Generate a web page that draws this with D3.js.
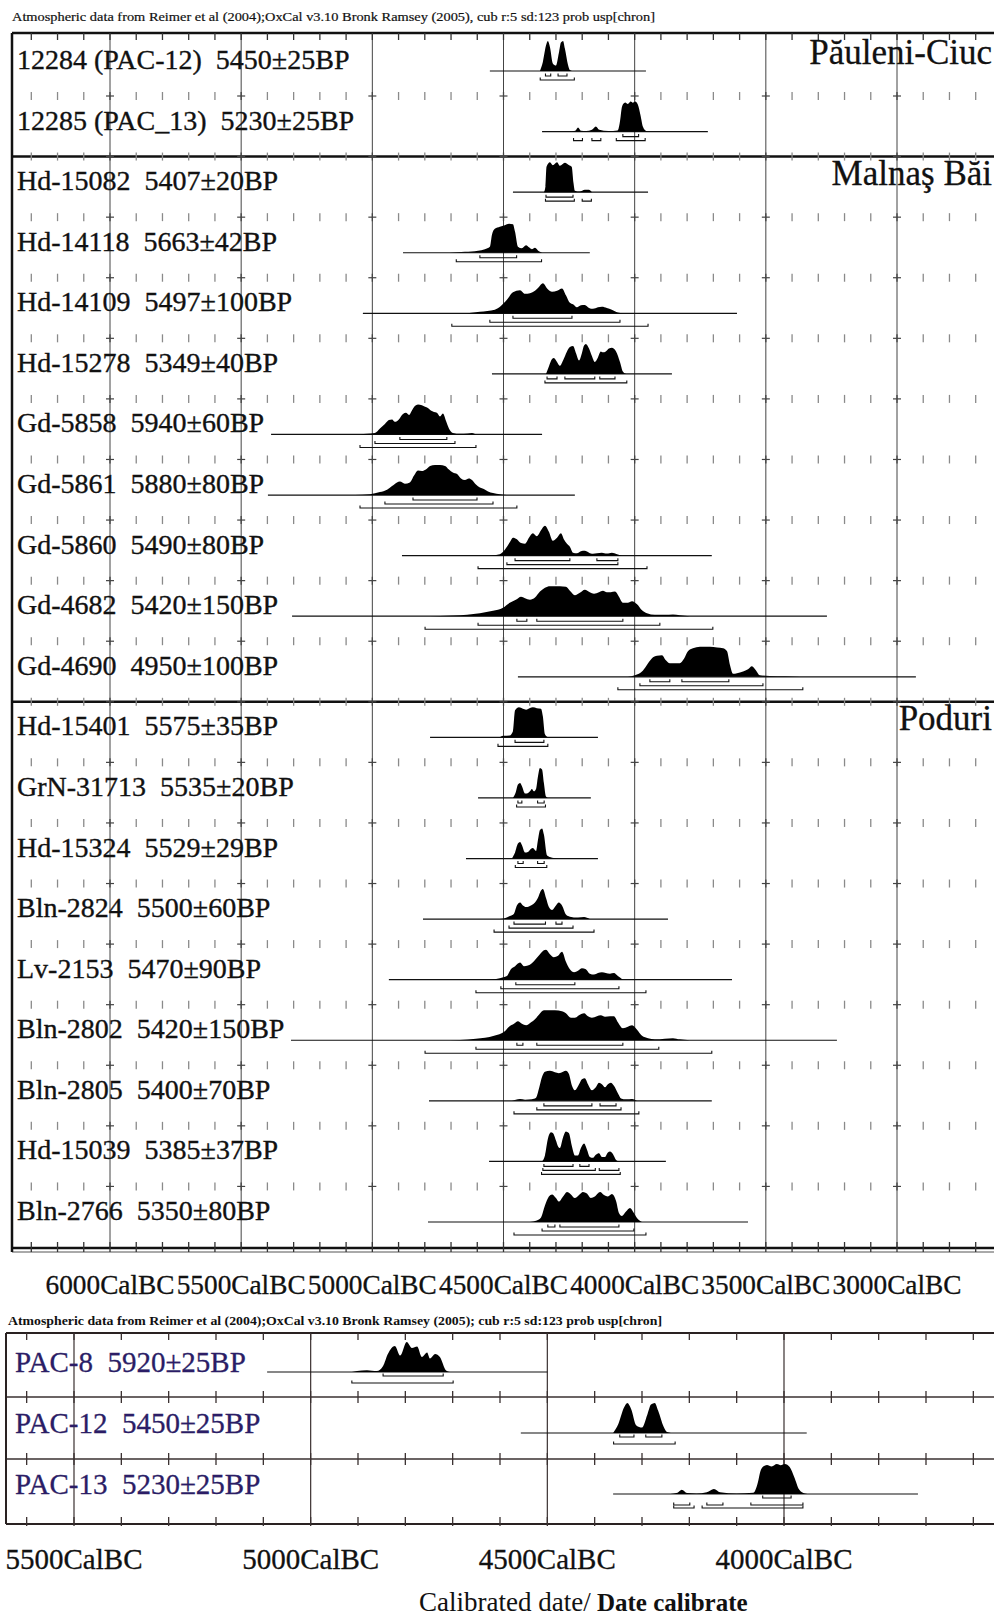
<!DOCTYPE html>
<html><head><meta charset="utf-8">
<script src="https://cdn.jsdelivr.net/npm/d3@7"></script>
<style>
body{margin:0;background:#fff}
svg{display:block}
text{font-family:"Liberation Serif","Times New Roman",serif;white-space:pre}
</style>
</head><body>
<svg id="c" width="994" height="1622"></svg>
<script>
// ---------------- DATA ----------------
const topHeader = "Atmospheric data from Reimer et al (2004);OxCal v3.10 Bronk Ramsey (2005), cub r:5 sd:123 prob usp[chron]";
const bottomHeader = "Atmospheric data from Reimer et al (2004);OxCal v3.10 Bronk Ramsey (2005); cub r:5 sd:123 prob usp[chron]";
const topAxisYears = [6000, 5500, 5000, 4500, 4000, 3500, 3000];
const bottomAxisYears = [5500, 5000, 4500, 4000];
const axisSuffix = "CalBC";

const groupNames = ["Păuleni-Ciuc", "Malnaş Băi", "Poduri"];
const groupFirstRow = [0, 2, 11];

const topLabels = [
 "12284 (PAC-12)  5450±25BP", "12285 (PAC_13)  5230±25BP",
 "Hd-15082  5407±20BP", "Hd-14118  5663±42BP", "Hd-14109  5497±100BP", "Hd-15278  5349±40BP",
 "Gd-5858  5940±60BP", "Gd-5861  5880±80BP", "Gd-5860  5490±80BP", "Gd-4682  5420±150BP", "Gd-4690  4950±100BP",
 "Hd-15401  5575±35BP", "GrN-31713  5535±20BP", "Hd-15324  5529±29BP", "Bln-2824  5500±60BP", "Lv-2153  5470±90BP",
 "Bln-2802  5420±150BP", "Bln-2805  5400±70BP", "Hd-15039  5385±37BP", "Bln-2766  5350±80BP"
];

// probability curves: [calBC year, relative probability]
const pac12 = [[4361,0],[4350,0.3],[4338,0.85],[4331,1],[4323,0.8],[4312,0.25],[4300,0.18],[4289,0.6],[4281,0.95],[4273,1],[4266,0.75],[4254,0.2],[4247,0.03],[4239,0]];
const pac13 = [[4240,0],[4225,0.04],[4216,0.14],[4205,0.03],[4185,0.02],[4163,0.06],[4148,0.17],[4135,0.06],[4100,0.02],[4065,0.04],[4055,0.4],[4050,0.75],[4044,0.92],[4036,0.97],[4026,0.92],[4015,1],[4007,0.96],[3998,1],[3988,0.9],[3978,0.55],[3968,0.15],[3956,0.02],[3945,0]];
const pac8 = [[4913,0],[4902,0.03],[4881,0.06],[4860,0.03],[4847,0.2],[4837,0.6],[4822,0.87],[4811,0.55],[4797,1],[4786,0.8],[4775,0.85],[4765,0.5],[4754,0.65],[4748,0.45],[4737,0.6],[4727,0.5],[4714,0.05],[4706,0]];
const topDensities = [
 pac12,
 pac13,
 [[4346,0],[4340,0.2],[4336,0.85],[4323,1],[4312,0.9],[4296,1],[4285,0.88],[4266,0.98],[4250,0.9],[4240,0.85],[4233,0.3],[4228,0.05],[4210,0.02],[4190,0.08],[4175,0.08],[4163,0]],
 [[4704,0],[4647,0.03],[4597,0.07],[4571,0.12],[4552,0.2],[4544,0.6],[4533,0.8],[4514,0.87],[4495,0.92],[4479,0.97],[4464,0.95],[4456,0.7],[4445,0.2],[4430,0.15],[4414,0.25],[4403,0.18],[4392,0.12],[4380,0.17],[4365,0.05],[4353,0]],
 [[4639,0],[4590,0.05],[4533,0.12],[4487,0.45],[4464,0.7],[4437,0.77],[4418,0.65],[4399,0.67],[4380,0.75],[4365,0.88],[4350,1],[4331,0.8],[4315,0.72],[4296,0.75],[4277,0.83],[4262,0.6],[4247,0.35],[4235,0.3],[4220,0.2],[4205,0.27],[4190,0.28],[4174,0.18],[4159,0.15],[4140,0.2],[4125,0.22],[4106,0.18],[4087,0.12],[4064,0.03],[4045,0]],
 [[4338,0],[4327,0.25],[4315,0.5],[4308,0.53],[4296,0.4],[4285,0.27],[4273,0.45],[4258,0.75],[4247,0.9],[4235,0.93],[4224,0.7],[4212,0.45],[4201,0.7],[4193,0.95],[4186,1],[4174,0.85],[4163,0.6],[4152,0.4],[4140,0.55],[4129,0.75],[4121,0.72],[4110,0.75],[4098,0.85],[4087,0.87],[4071,0.75],[4056,0.4],[4045,0.08],[4033,0]],
 [[5047,0],[5020,0.02],[4990,0.05],[4971,0.2],[4952,0.35],[4937,0.48],[4925,0.5],[4914,0.42],[4899,0.5],[4883,0.68],[4872,0.72],[4860,0.65],[4849,0.8],[4838,0.95],[4826,1],[4811,0.97],[4799,0.92],[4788,0.88],[4777,0.8],[4765,0.75],[4754,0.72],[4742,0.6],[4731,0.7],[4719,0.45],[4708,0.2],[4693,0.05],[4666,0.02],[4636,0.03],[4620,0.05],[4605,0]],
 [[5066,0],[5009,0.03],[4971,0.1],[4944,0.18],[4925,0.3],[4906,0.42],[4895,0.45],[4876,0.38],[4857,0.42],[4841,0.65],[4826,0.82],[4811,0.8],[4796,0.85],[4780,0.97],[4761,1],[4742,1],[4723,0.97],[4708,0.85],[4693,0.75],[4677,0.7],[4662,0.55],[4647,0.5],[4632,0.55],[4620,0.5],[4605,0.35],[4590,0.25],[4575,0.2],[4559,0.12],[4540,0.07],[4514,0.03],[4487,0]],
 [[4552,0],[4514,0.05],[4495,0.2],[4476,0.45],[4464,0.6],[4449,0.55],[4433,0.42],[4418,0.4],[4403,0.6],[4388,0.75],[4373,0.65],[4357,0.85],[4342,1],[4327,0.8],[4312,0.5],[4296,0.6],[4281,0.75],[4270,0.55],[4258,0.4],[4247,0.3],[4235,0.1],[4220,0.08],[4205,0.15],[4190,0.16],[4174,0.1],[4159,0.06],[4144,0.08],[4125,0.1],[4106,0.07],[4087,0.1],[4067,0.05],[4049,0]],
 [[4818,0],[4742,0.01],[4639,0.05],[4590,0.1],[4540,0.18],[4502,0.28],[4476,0.45],[4453,0.55],[4433,0.65],[4418,0.6],[4399,0.55],[4380,0.62],[4361,0.82],[4342,0.95],[4323,1],[4285,1],[4262,0.98],[4247,0.85],[4228,0.7],[4209,0.78],[4190,0.88],[4171,0.8],[4155,0.75],[4136,0.8],[4121,0.85],[4106,0.8],[4091,0.8],[4075,0.82],[4060,0.65],[4045,0.45],[4026,0.45],[4010,0.5],[3991,0.4],[3972,0.2],[3953,0.1],[3923,0.05],[3885,0.05],[3854,0.06],[3828,0.03],[3790,0]],
 [[4026,0],[3999,0.05],[3969,0.2],[3949,0.45],[3930,0.65],[3915,0.7],[3896,0.72],[3881,0.55],[3866,0.45],[3846,0.45],[3828,0.45],[3812,0.6],[3797,0.85],[3778,0.95],[3751,1],[3713,1],[3686,0.98],[3663,0.95],[3648,0.85],[3637,0.4],[3625,0.1],[3610,0.12],[3587,0.18],[3568,0.25],[3553,0.35],[3538,0.22],[3523,0.05],[3485,0.03],[3427,0.02],[3370,0]],
 [[4514,0],[4502,0.05],[4476,0.06],[4464,0.2],[4456,0.9],[4441,1],[4426,0.95],[4414,0.92],[4399,0.98],[4388,1],[4373,0.97],[4357,0.95],[4350,0.7],[4342,0.1],[4331,0]],
 [[4464,0],[4453,0.2],[4445,0.45],[4437,0.5],[4430,0.4],[4418,0.15],[4411,0.15],[4399,0.22],[4392,0.3],[4384,0.22],[4376,0.3],[4369,0.7],[4361,1],[4353,0.95],[4346,0.5],[4338,0.05],[4331,0]],
 [[4468,0],[4456,0.2],[4445,0.5],[4437,0.55],[4430,0.45],[4418,0.2],[4407,0.22],[4395,0.33],[4388,0.35],[4376,0.25],[4369,0.6],[4361,0.95],[4353,1],[4346,0.8],[4334,0.1],[4315,0.03],[4289,0]],
 [[4514,0],[4495,0.03],[4476,0.1],[4460,0.18],[4449,0.45],[4437,0.55],[4426,0.45],[4414,0.4],[4403,0.42],[4392,0.47],[4380,0.55],[4369,0.7],[4357,0.95],[4350,1],[4338,0.7],[4327,0.4],[4315,0.3],[4300,0.45],[4289,0.55],[4277,0.45],[4262,0.15],[4247,0.08],[4216,0.05],[4193,0.07],[4171,0]],
 [[4552,0],[4514,0.05],[4487,0.12],[4472,0.35],[4456,0.45],[4437,0.57],[4422,0.45],[4407,0.47],[4392,0.55],[4376,0.7],[4361,0.85],[4346,0.98],[4338,1],[4323,0.85],[4308,0.75],[4292,0.8],[4277,0.93],[4262,0.6],[4247,0.35],[4231,0.25],[4216,0.3],[4201,0.38],[4186,0.35],[4171,0.2],[4155,0.17],[4140,0.22],[4125,0.25],[4110,0.22],[4094,0.2],[4079,0.22],[4064,0.12],[4045,0]],
 [[4742,0],[4666,0.01],[4605,0.05],[4536,0.15],[4495,0.3],[4479,0.45],[4460,0.55],[4445,0.63],[4430,0.55],[4414,0.5],[4395,0.6],[4380,0.7],[4365,0.85],[4346,1],[4304,1],[4277,0.97],[4262,0.9],[4243,0.75],[4228,0.75],[4209,0.85],[4193,0.9],[4178,0.8],[4163,0.75],[4144,0.8],[4129,0.83],[4113,0.78],[4094,0.8],[4079,0.8],[4064,0.6],[4045,0.4],[4026,0.45],[4010,0.5],[3991,0.35],[3972,0.15],[3949,0.07],[3923,0.03],[3885,0.05],[3854,0.07],[3828,0.03],[3790,0]],
 [[4468,0],[4453,0.04],[4437,0.06],[4418,0.04],[4392,0.05],[4376,0.1],[4365,0.4],[4353,0.8],[4342,0.97],[4323,1],[4304,0.95],[4289,0.92],[4273,0.97],[4262,1],[4251,0.9],[4239,0.5],[4228,0.35],[4212,0.55],[4201,0.72],[4190,0.75],[4178,0.55],[4163,0.35],[4148,0.45],[4136,0.6],[4125,0.55],[4113,0.45],[4102,0.55],[4091,0.6],[4079,0.5],[4064,0.25],[4052,0.08],[4033,0.05],[4010,0.06],[3991,0]],
 [[4353,0],[4342,0.2],[4331,0.75],[4319,0.97],[4312,0.95],[4300,0.7],[4292,0.5],[4285,0.45],[4273,0.8],[4262,1],[4251,0.95],[4239,0.5],[4228,0.2],[4216,0.2],[4205,0.45],[4193,0.6],[4182,0.4],[4171,0.15],[4159,0.12],[4148,0.22],[4136,0.27],[4125,0.15],[4113,0.15],[4102,0.3],[4094,0.33],[4083,0.25],[4071,0.05],[4060,0]],
 [[4399,0],[4373,0.05],[4357,0.15],[4342,0.55],[4327,0.85],[4315,0.92],[4300,0.8],[4289,0.68],[4273,0.85],[4258,1],[4243,0.92],[4228,0.8],[4212,0.9],[4197,1],[4182,0.95],[4167,0.8],[4152,0.85],[4132,1],[4117,0.9],[4102,0.85],[4087,0.93],[4071,0.7],[4060,0.3],[4049,0.2],[4033,0.35],[4018,0.47],[4003,0.3],[3988,0.1],[3972,0]]
];
// extent of the plotted calibration line for each date (calBC)
const topLines = [[4552,3957],[4353,3721],[4464,3949],[4883,4171],[5036,3610],[4544,3858],[5386,4353],[5398,4228],[4887,3706],[5306,3267],[4445,2928],[4780,4140],[4597,4167],[4643,4140],[4807,3873],[4937,3629],[5310,3229],[4784,3706],[4555,3881],[4788,3568]];
// highest-probability ranges: 68.2%, 95.4%, 99.7%
const topR68 = [[[4340,4320],[4292,4258]],[[4045,3985]],[[4338,4235]],[[4590,4450]],[[4464,4239]],[[4334,4296],[4266,4152],[4133,4075]],[[4895,4716]],[[4845,4601]],[[4456,4247],[4144,4064]],[[4449,4411],[4373,4045]],[[3942,3866],[3820,3641]],[[4456,4346]],[[4445,4430],[4370,4345]],[[4445,4425],[4370,4345]],[[4460,4340],[4300,4277]],[[4453,4228]],[[4449,4426],[4373,4045]],[[4346,4163],[4132,4071]],[[4346,4235],[4209,4174]],[[4331,4304],[4285,4060]]];
const topR95 = [[[4360,4230]],[[4233,4199],[4163,4129],[4070,3960]],[[4340,4230],[4200,4165]],[[4680,4355]],[[4552,4056]],[[4342,4030]],[[4990,4685]],[[4952,4540]],[[4487,4064]],[[4597,3904]],[[3980,3511]],[[4521,4331]],[[4450,4340]],[[4455,4335]],[[4479,4235]],[[4510,4060]],[[4605,3908]],[[4373,4052]],[[4350,4150],[4135,4060]],[[4353,4003]]];
const topR99 = [[],[],[],[],[[4697,3949]],[],[[5047,4605]],[[5047,4449]],[[4597,3953]],[[4799,3702]],[[4064,3359]],[],[],[],[[4536,4155]],[[4605,3957]],[[4799,3706]],[[4460,3984]],[[4355,4055]],[[4460,3957]]];

const bottomLabels = ["PAC-8  5920±25BP", "PAC-12  5450±25BP", "PAC-13  5230±25BP"];
const bottomDensities = [pac8, pac12, pac13];
const bottomLines = [[5092,4500],[4556,3952],[4361,3717]];
const bottomR68 = [[[4847,4720]],[[4347,4317],[4292,4258]],[[4045,3985]]];
const bottomR95 = [[[4913,4699]],[[4360,4230]],[[4233,4199],[4163,4129],[4070,3960]]];
const bottomR99 = [[],[],[[4233,4190],[4173,3960]]];
const xTitleNormal = "Calibrated date/";
const xTitleBold = " Date calibrate";

// ---------------- LAYOUT ----------------
const svg = d3.select("#c");
const W = 994;
const ink = "#111";

// ---- top panel ----
const topX = d3.scaleLinear().domain([6000, 3000]).range([110, 897]);
const rowY = d3.scaleLinear().domain([0, 19]).range([71, 1222]);
const hTop = d3.scaleLinear().domain([0, 1]).range([0, 30]);
const boxLeft = 12, boxTop = 33, boxBottom = rowY(19) + 26;
const minorTop = d3.range(6300, 2650, -100);

svg.append("text").attr("x", 12).attr("y", 21).attr("font-size", 12.5)
  .attr("textLength", 643).attr("lengthAdjust", "spacingAndGlyphs").attr("fill", ink)
  .attr("stroke", ink).attr("stroke-width", 0.2).text(topHeader);

// vertical grid lines
svg.append("g").selectAll("line").data(topAxisYears).join("line")
  .attr("x1", d => topX(d)).attr("x2", d => topX(d)).attr("y1", boxTop).attr("y2", boxBottom)
  .attr("stroke", "#444").attr("stroke-width", 1);

// separators with ticks
const seps = d3.range(0, 19).map(i => ({y: rowY(i) + 25, thick: groupFirstRow.includes(i + 1)}));
const tg = svg.append("g");
seps.forEach(s => {
  if (s.thick) tg.append("line").attr("x1", boxLeft).attr("x2", W).attr("y1", s.y).attr("y2", s.y).attr("stroke", ink).attr("stroke-width", 2.5);
  tg.append("g").selectAll("line").data(minorTop).join("line")
    .attr("x1", d => topX(d)).attr("x2", d => topX(d)).attr("y1", s.y - 4).attr("y2", s.y + 4)
    .attr("stroke", d => d % 500 === 0 ? "#444" : "#8a8a8a").attr("stroke-width", 1.3);
  tg.append("g").selectAll("line").data(topAxisYears).join("line")
    .attr("x1", d => topX(d) - 4).attr("x2", d => topX(d) + 4).attr("y1", s.y).attr("y2", s.y)
    .attr("stroke", "#444").attr("stroke-width", 1.2);
});
// box
tg.append("line").attr("x1", boxLeft).attr("x2", W).attr("y1", boxTop).attr("y2", boxTop).attr("stroke", ink).attr("stroke-width", 2.5);
tg.append("g").selectAll("line").data(minorTop).join("line")
  .attr("x1", d => topX(d)).attr("x2", d => topX(d)).attr("y1", boxTop).attr("y2", boxTop + 7)
  .attr("stroke", "#333").attr("stroke-width", 1.3);
tg.append("line").attr("x1", boxLeft).attr("x2", W).attr("y1", boxBottom).attr("y2", boxBottom).attr("stroke", ink).attr("stroke-width", 2.5);
tg.append("line").attr("x1", boxLeft).attr("x2", W).attr("y1", boxBottom + 4).attr("y2", boxBottom + 4).attr("stroke", "#555").attr("stroke-width", 1);
tg.append("g").selectAll("line").data(minorTop).join("line")
  .attr("x1", d => topX(d)).attr("x2", d => topX(d)).attr("y1", boxBottom - 6).attr("y2", boxBottom + 4)
  .attr("stroke", "#333").attr("stroke-width", 1.3);
tg.append("line").attr("x1", boxLeft).attr("x2", boxLeft).attr("y1", boxTop).attr("y2", boxBottom + 4).attr("stroke", ink).attr("stroke-width", 2.5);

function rangePath(x, y, a, b) {
  const x1 = x(a), x2 = x(b);
  return `M${x1},${y - 2.5}V${y}H${x2}V${y - 2.5}`;
}

function drawRow(g, x, base, h, dens, line, r68, r95, r99, offs) {
  g.append("line").attr("x1", x(line[0])).attr("x2", x(line[1])).attr("y1", base).attr("y2", base)
    .attr("stroke", ink).attr("stroke-width", 1.2);
  const area = d3.area().x(d => x(d[0])).y0(base).y1(d => base - h(d[1])).curve(d3.curveMonotoneX);
  g.append("path").datum(dens.slice().sort((p, q) => x(p[0]) - x(q[0]))).attr("d", area).attr("fill", "#000");
  [r68, r95, r99].forEach((lv, k) => {
    lv.forEach(r => g.append("path").attr("d", rangePath(x, base + offs[k], r[0], r[1]))
      .attr("fill", "none").attr("stroke", ink).attr("stroke-width", 1.1));
  });
}

const rowsG = svg.append("g");
topLabels.forEach((lab, i) => {
  const base = rowY(i);
  drawRow(rowsG, topX, base, hTop, topDensities[i], topLines[i], topR68[i], topR95[i], topR99[i], [5, 9, 13]);
  rowsG.append("text").attr("x", 17).attr("y", base - 2).attr("font-size", 28).attr("fill", ink)
    .attr("stroke", ink).attr("stroke-width", 0.35).text(lab);
});
groupNames.forEach((g, k) => {
  svg.append("text").attr("x", 992).attr("y", rowY(groupFirstRow[k]) - 7).attr("text-anchor", "end")
    .attr("font-size", 35).attr("fill", ink).attr("stroke", ink).attr("stroke-width", 0.3).text(g);
});
svg.append("g").selectAll("text").data(topAxisYears).join("text")
  .attr("x", d => topX(d)).attr("y", 1294).attr("text-anchor", "middle").attr("font-size", 27.3)
  .attr("fill", ink).attr("stroke", ink).attr("stroke-width", 0.3).text(d => d + axisSuffix);

// ---- bottom panel ----
const botX = d3.scaleLinear().domain([5500, 4000]).range([74, 784]);
const botRowY = d3.scaleLinear().domain([0, 2]).range([1372, 1494]);
const bLeft = 6, bTop = 1333, bBottom = 1524;
const bSeps = [1397, 1459];
const minorBot = d3.range(5600, 3550, -100);
svg.append("text").attr("x", 8).attr("y", 1325).attr("font-size", 12.5).attr("font-weight", "bold")
  .attr("textLength", 654).attr("lengthAdjust", "spacingAndGlyphs").attr("fill", ink).text(bottomHeader);
const bg = svg.append("g");
bg.selectAll("line.g").data(bottomAxisYears).join("line")
  .attr("x1", d => botX(d)).attr("x2", d => botX(d)).attr("y1", bTop).attr("y2", bBottom)
  .attr("stroke", "#3a3030").attr("stroke-width", 1.2);
[bTop, bBottom].forEach(y => bg.append("line").attr("x1", bLeft).attr("x2", W).attr("y1", y).attr("y2", y).attr("stroke", "#2a2222").attr("stroke-width", 2));
bSeps.forEach(y => {
  bg.append("line").attr("x1", bLeft).attr("x2", W).attr("y1", y).attr("y2", y).attr("stroke", "#3a3030").attr("stroke-width", 1.3);
  bg.append("g").selectAll("line").data(minorBot).join("line")
    .attr("x1", d => botX(d)).attr("x2", d => botX(d)).attr("y1", y - 6).attr("y2", y + 6)
    .attr("stroke", "#3a3030").attr("stroke-width", 1.3);
});
bg.append("g").selectAll("line").data(minorBot).join("line")
  .attr("x1", d => botX(d)).attr("x2", d => botX(d)).attr("y1", bTop).attr("y2", bTop + 7)
  .attr("stroke", "#3a3030").attr("stroke-width", 1.3);
bg.append("g").selectAll("line").data(minorBot).join("line")
  .attr("x1", d => botX(d)).attr("x2", d => botX(d)).attr("y1", bBottom - 7).attr("y2", bBottom + 2)
  .attr("stroke", "#3a3030").attr("stroke-width", 1.3);
bg.append("line").attr("x1", bLeft).attr("x2", bLeft).attr("y1", bTop).attr("y2", bBottom).attr("stroke", "#2a2222").attr("stroke-width", 2);

bottomLabels.forEach((lab, i) => {
  const base = botRowY(i);
  drawRow(bg, botX, base, hTop, bottomDensities[i], bottomLines[i], bottomR68[i], bottomR95[i], bottomR99[i], [4, 11, 14]);
  bg.append("text").attr("x", 15).attr("y", base).attr("font-size", 29).attr("fill", "#2b1d66")
    .attr("stroke", "#2b1d66").attr("stroke-width", 0.3).text(lab);
});
svg.append("g").selectAll("text").data(bottomAxisYears).join("text")
  .attr("x", d => botX(d)).attr("y", 1569).attr("text-anchor", "middle").attr("font-size", 29)
  .attr("fill", ink).attr("stroke", ink).attr("stroke-width", 0.3).text(d => d + axisSuffix);
const xt = svg.append("text").attr("x", 419).attr("y", 1611).attr("fill", ink);
xt.append("tspan").attr("font-size", 27).text(xTitleNormal);
xt.append("tspan").attr("font-size", 25).attr("font-weight", "bold").text(xTitleBold);
</script>
</body></html>
